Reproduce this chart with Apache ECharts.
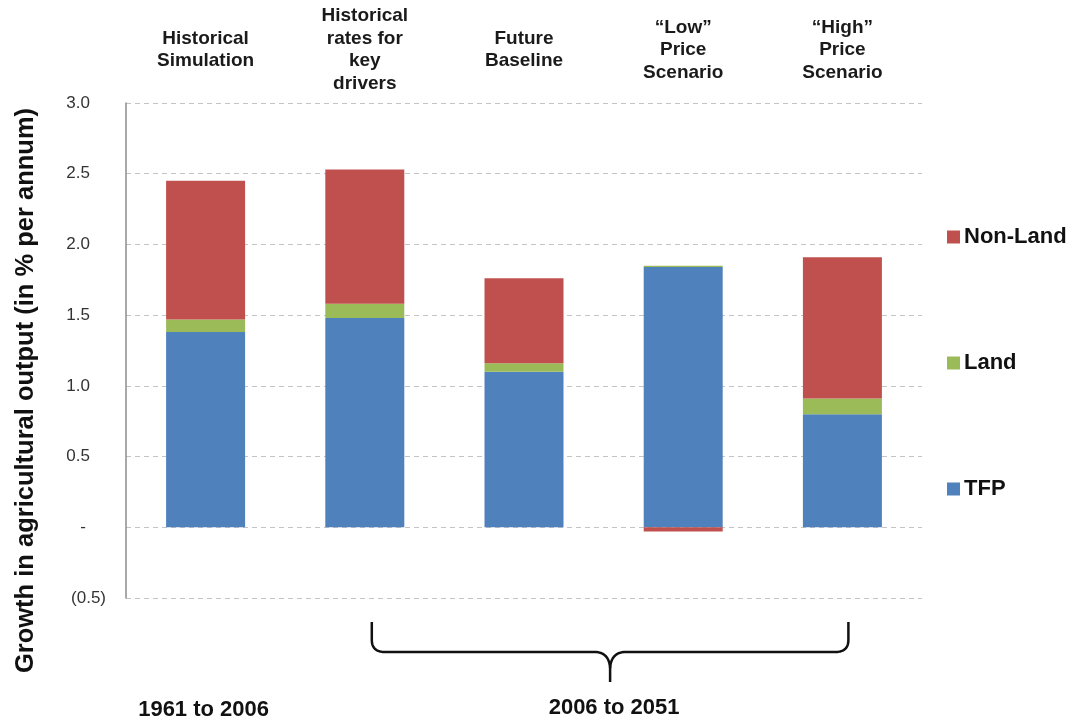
<!DOCTYPE html>
<html>
<head>
<meta charset="utf-8">
<script src="https://cdn.jsdelivr.net/npm/echarts@6/dist/echarts.min.js"></script>
<style>
html,body{margin:0;padding:0;background:#fff;}
#main{width:1075px;height:721px;}
</style>
</head>
<body>
<div id="main"></div>
<script>
const categories = ['Historical\nSimulation', 'Historical\nrates for\nkey\ndrivers', 'Future\nBaseline', '“Low”\nPrice\nScenario', '“High”\nPrice\nScenario'];
const tfp = [1.38, 1.48, 1.10, 1.84, 0.80];
const land = [0.09, 0.10, 0.06, 0.01, 0.11];
const nonLand = [0.98, 0.95, 0.60, -0.03, 1.00];
const periodLabels = ['1961 to 2006', '2006 to 2051'];
const yAxisTitle = 'Growth in agricultural output (in % per annum)';

const FONT = '"Liberation Sans", Arial, sans-serif';
const chart = echarts.init(document.getElementById('main'), null, {renderer: 'canvas'});

function yFmt(v) {
  if (Math.abs(v) < 1e-9) return '{z|-}';
  if (v < 0) return '{n|(' + Math.abs(v).toFixed(1) + ')}';
  return '{p|' + v.toFixed(1) + '}';
}
const yRich = {
  p: {fontFamily: FONT, fontSize: 17, color: '#333', padding: [0, 16, 0, 0]},
  z: {fontFamily: FONT, fontSize: 17, color: '#333', padding: [0, 20, 0, 0]},
  n: {fontFamily: FONT, fontSize: 17, color: '#333', padding: [0, 0, 0, 0]}
};

const option = {
  backgroundColor: '#fff',
  animation: false,
  grid: {left: 126, right: 153, top: 103, bottom: 123},
  legend: {
    orient: 'vertical',
    left: 942,
    top: 220,
    itemWidth: 13,
    itemHeight: 13,
    itemGap: 102,
    icon: 'rect',
    data: ['Non-Land', 'Land', 'TFP'],
    textStyle: {fontFamily: FONT, fontSize: 22, fontWeight: 'bold', color: '#111', lineHeight: 24, padding: [0, 0, 0, -1]}
  },
  xAxis: [
    {
      type: 'category', data: categories, position: 'bottom',
      axisLine: {show: false}, axisTick: {show: false}, axisLabel: {show: false}, splitLine: {show: false}
    },
    {
      type: 'category', data: categories, position: 'top',
      axisLine: {show: false}, axisTick: {show: false}, splitLine: {show: false},
      axisLabel: {
        interval: 0, margin: 53, verticalAlign: 'middle',
        fontFamily: FONT, fontSize: 19, fontWeight: 'bold', color: '#1a1a1a', lineHeight: 22.5, align: 'center'
      }
    }
  ],
  yAxis: {
    type: 'value', min: -0.5, max: 3.0, interval: 0.5,
    name: yAxisTitle, nameLocation: 'middle', nameRotate: 90, nameGap: 87,
    nameTextStyle: {fontFamily: FONT, fontSize: 25.5, fontWeight: 'bold', color: '#111', padding: [0, 80, 0, 0]},
    axisLine: {show: true, lineStyle: {color: '#8c8c8c', width: 1.5}},
    axisTick: {show: false},
    axisLabel: {margin: 20, formatter: yFmt, rich: yRich, fontFamily: FONT, fontSize: 17, color: '#333'},
    splitLine: {show: true, lineStyle: {color: '#c4c4c4', width: 1, type: [5, 4]}}
  },
  series: [
    {name: 'TFP', type: 'bar', stack: 'total', data: tfp, barWidth: 79, itemStyle: {color: '#4F81BD'}, xAxisIndex: 0},
    {name: 'Land', type: 'bar', stack: 'total', data: land, barWidth: 79, itemStyle: {color: '#9BBB59'}, xAxisIndex: 0},
    {name: 'Non-Land', type: 'bar', stack: 'total', data: nonLand, barWidth: 79, itemStyle: {color: '#C0504D'}, xAxisIndex: 0}
  ]
};
chart.setOption(option);

// Annotations: period labels and brace, positioned from the axes
const c0 = chart.convertToPixel({xAxisIndex: 0}, 0);
const c1 = chart.convertToPixel({xAxisIndex: 0}, 1);
const c4 = chart.convertToPixel({xAxisIndex: 0}, 4);
const yBase = chart.convertToPixel({yAxisIndex: 0}, -0.5);

const bl = c1 + 7, br = c4 + 6, bm = (bl + br) / 2;
const bt = yBase + 24, bh = yBase + 54, btip = yBase + 84;

function quad(p0, p1, p2, n) {
  const out = [];
  for (let i = 1; i <= n; i++) {
    const t = i / n, u = 1 - t;
    out.push([u * u * p0[0] + 2 * u * t * p1[0] + t * t * p2[0], u * u * p0[1] + 2 * u * t * p1[1] + t * t * p2[1]]);
  }
  return out;
}
const leftPts = [[bl, bt], [bl, bh - 12]]
  .concat(quad([bl, bh - 12], [bl, bh], [bl + 13, bh], 10))
  .concat([[bm - 14, bh]])
  .concat(quad([bm - 14, bh], [bm - 1, bh + 1], [bm, bh + 16], 10))
  .concat([[bm, btip]]);
const rightPts = [[br, bt], [br, bh - 12]]
  .concat(quad([br, bh - 12], [br, bh], [br - 13, bh], 10))
  .concat([[bm + 14, bh]])
  .concat(quad([bm + 14, bh], [bm + 1, bh + 1], [bm, bh + 16], 10));

chart.setOption({
  graphic: [
    {type: 'polyline', shape: {points: leftPts}, style: {fill: null, stroke: '#111', lineWidth: 2.5, lineJoin: 'round'}},
    {type: 'polyline', shape: {points: rightPts}, style: {fill: null, stroke: '#111', lineWidth: 2.5, lineJoin: 'round'}},
    {
      type: 'text', x: c0 - 2, y: yBase + 112,
      style: {text: periodLabels[0], font: 'bold 22px ' + FONT, fill: '#111', textAlign: 'center', textVerticalAlign: 'middle'}
    },
    {
      type: 'text', x: bm + 4, y: yBase + 110,
      style: {text: periodLabels[1], font: 'bold 22px ' + FONT, fill: '#111', textAlign: 'center', textVerticalAlign: 'middle'}
    }
  ]
});
</script>
</body>
</html>
